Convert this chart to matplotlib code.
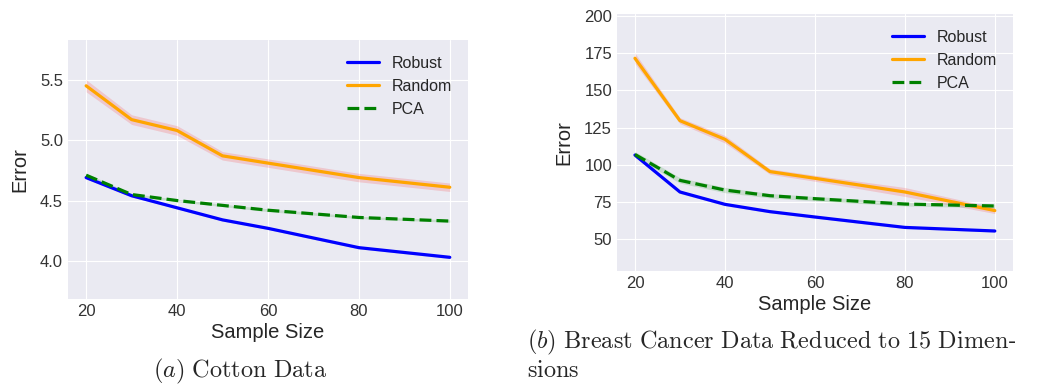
import matplotlib
matplotlib.use('Agg')
import matplotlib.pyplot as plt
import numpy as np

# 数据
sizes = [20, 30, 40, 50, 60, 80, 100]

cotton_robust = [4.69, 4.54, 4.44, 4.34, 4.27, 4.11, 4.03]
cotton_random = [5.45, 5.17, 5.08, 4.87, 4.81, 4.69, 4.61]
cotton_pca = [4.71, 4.55, 4.50, 4.46, 4.42, 4.36, 4.33]
cotton_robust_sd = [0.01, 0.01, 0.01, 0.01, 0.01, 0.01, 0.01]
cotton_random_sd = [0.05, 0.04, 0.04, 0.035, 0.035, 0.035, 0.035]
cotton_pca_sd = [0.015, 0.01, 0.01, 0.01, 0.012, 0.01, 0.01]

cancer_robust = [106.6, 81.8, 73.5, 68.6, 65.0, 58.0, 55.6]
cancer_random = [171.6, 129.7, 117.2, 95.5, 91.0, 81.8, 69.3]
cancer_pca = [107.0, 89.6, 83.1, 79.3, 77.3, 73.7, 72.4]
cancer_robust_sd = [1.2, 1.0, 0.9, 0.8, 0.8, 0.8, 0.7]
cancer_random_sd = [3.5, 2.0, 2.5, 1.8, 2.0, 3.0, 2.0]
cancer_pca_sd = [2.0, 1.8, 1.8, 1.5, 1.5, 1.3, 1.3]

cotton_yticks = [4.0, 4.5, 5.0, 5.5]
cancer_yticks = [50, 75, 100, 125, 150, 175, 200]
xticks = [20, 40, 60, 80, 100]

plt.style.use('seaborn-v0_8-darkgrid')
plt.rcParams['font.family'] = ['Liberation Sans', 'DejaVu Sans']
plt.rcParams['mathtext.fontset'] = 'cm'

fig = plt.figure(figsize=(10.39, 3.85), dpi=100)
ax1 = fig.add_axes([0.0654, 0.2234, 0.385, 0.673])
ax2 = fig.add_axes([0.5938, 0.296, 0.381, 0.6675])


def draw(ax, robust, random_, pca, rsd, asd, psd):
    x = np.array(sizes)
    robust, random_, pca = np.array(robust), np.array(random_), np.array(pca)
    rsd, asd, psd = np.array(rsd), np.array(asd), np.array(psd)
    ax.fill_between(x, robust - rsd, robust + rsd, color='blue', alpha=0.15, lw=0)
    ax.fill_between(x, random_ - asd, random_ + asd, color='red', alpha=0.15, lw=0)
    ax.fill_between(x, pca - psd, pca + psd, color='green', alpha=0.15, lw=0)
    ax.plot(x, robust, color='blue', lw=2.3, label='Robust')
    ax.plot(x, random_, color='orange', lw=2.3, label='Random')
    ax.plot(x, pca, color='green', lw=2.3, ls='--', label='PCA')
    ax.set_xticks(xticks)
    ax.set_xlim(16, 104)
    ax.tick_params(labelsize=12, colors='#333333')
    ax.set_xlabel('Sample Size', fontsize=14.5, color='#262626', labelpad=3)
    ax.set_ylabel('Error', fontsize=14.5, color='#262626', labelpad=8)
    ax.legend(loc='upper right', fontsize=11.5, frameon=False,
              handlelength=2.0, borderaxespad=0.6)


draw(ax1, cotton_robust, cotton_random, cotton_pca,
     cotton_robust_sd, cotton_random_sd, cotton_pca_sd)
ax1.set_yticks(cotton_yticks)
ax1.set_ylim(3.685, 5.83)

draw(ax2, cancer_robust, cancer_random, cancer_pca,
     cancer_robust_sd, cancer_random_sd, cancer_pca_sd)
ax2.set_yticks(cancer_yticks)
ax2.set_ylim(28.7, 201.3)

# 图注
fig.text(240 / 1039, 1 - 371 / 385, r'$\mathit{(a)}\ \mathrm{Cotton\ Data}$',
         fontsize=17.5, ha='center', va='center')
fig.text(527 / 1039, 1 - 342 / 385,
         r'$\mathit{(b)}\ \mathrm{Breast\ Cancer\ Data\ Reduced\ to\ 15\ Dimen}$-',
         fontsize=17.5, ha='left', va='center')
fig.text(527 / 1039, 1 - 371 / 385, r'$\mathrm{sions}$',
         fontsize=17.5, ha='left', va='center')

fig.savefig('out.png', dpi=100)
